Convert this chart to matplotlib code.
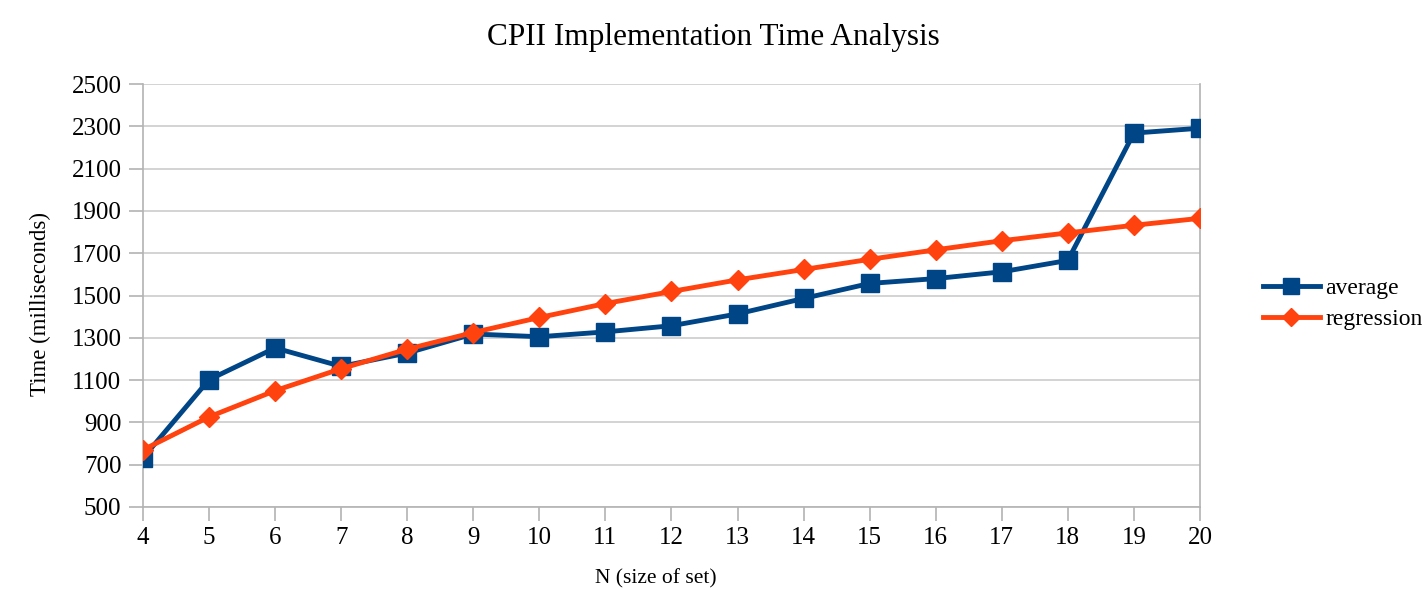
import matplotlib.pyplot as plt

# Data
n_values = [4, 5, 6, 7, 8, 9, 10, 11, 12, 13, 14, 15, 16, 17, 18, 19, 20]
average = [732, 1102, 1252, 1165, 1228, 1318, 1305, 1328, 1357, 1413, 1486, 1557, 1580, 1612, 1666, 2268, 2291]
regression = [770, 926, 1050, 1154, 1246, 1325, 1396, 1462, 1519, 1574, 1623, 1671, 1716, 1759, 1796, 1832, 1865]
y_ticks = list(range(500, 2501, 200))

plt.rcParams['font.family'] = ['Liberation Serif', 'DejaVu Serif']

fig = plt.figure(figsize=(14.27, 5.9), dpi=100)
ax = fig.add_axes([0.1002, 0.1407, 0.7407, 0.7169])

ax.plot(n_values, average, color="#004586", lw=3.5, marker="s", markersize=13,
        label="average", zorder=3)
ax.plot(n_values, regression, color="#ff420e", lw=3.5, marker="D", markersize=10,
        label="regression", zorder=4)

ax.set_xlim(4, 20)
ax.set_ylim(500, 2500)
ax.set_xticks(n_values)
ax.set_yticks(y_ticks)
ax.grid(axis="y", color="#cccccc", lw=1.2)
ax.set_axisbelow(True)
for s in ["left", "bottom", "right"]:
    ax.spines[s].set_color("#b3b3b3")
    ax.spines[s].set_linewidth(1.2)
ax.spines["top"].set_visible(False)
ax.tick_params(axis="both", colors="#b3b3b3", labelcolor="black", labelsize=18,
               length=10, width=1.2, pad=5.5)
ax.tick_params(axis="x", pad=4.5)

# title centred on the figure
fig.text(0.5, 1 - 37 / 590, "CPII Implementation Time Analysis", fontsize=22.5,
         ha="center", va="center")
ax.set_xlabel("N (size of set)", fontsize=15.5, va="center")
ax.xaxis.set_label_coords(0.485, -0.17)
ax.set_ylabel("Time (milliseconds)", fontsize=16.5, va="center")
ax.yaxis.set_label_coords(-0.0974, 0.48)

ax.legend(loc="center left", bbox_to_anchor=(1.0596, 0.48), frameon=False,
          borderaxespad=0, borderpad=0, fontsize=17, handlelength=2.4,
          labelspacing=0.4, handletextpad=0.25, markerscale=0.9)

fig.savefig("out.png", dpi=100)
